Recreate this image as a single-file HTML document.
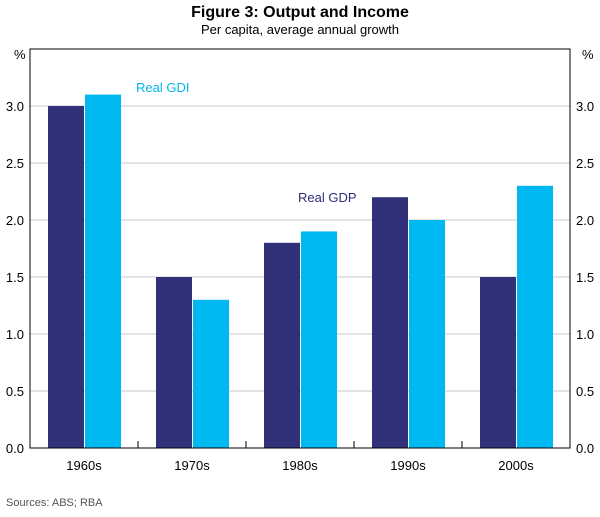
<!DOCTYPE html>
<html><head><meta charset="utf-8"><style>
body{margin:0;background:#fff;font-family:"Liberation Sans",sans-serif;}
</style></head><body>
<svg id="c" width="600" height="512" xmlns="http://www.w3.org/2000/svg" font-family="Liberation Sans, sans-serif">
<text x="300" y="17" text-anchor="middle" font-size="16" font-weight="bold">Figure 3: Output and Income</text>
<text x="300" y="34" text-anchor="middle" font-size="13">Per capita, average annual growth</text>
<g id="grid"></g><g id="bars"></g><g id="axes"></g>
<text x="136" y="92" fill="#00b8f0" font-size="13">Real GDI</text>
<text x="298" y="202" fill="#2e2e7a" font-size="13">Real GDP</text>
<text x="6" y="506" fill="#555" font-size="11">Sources:  ABS; RBA</text>
</svg>
<script>
const categories=["1960s","1970s","1980s","1990s","2000s"];
const gdp=[3.0,1.5,1.8,2.2,1.5];
const gdi=[3.1,1.3,1.9,2.0,2.3];
const ticks=[0,0.5,1,1.5,2,2.5,3];
const L=30,R=570,T=49,B=448,MAX=3.5;
const NS="http://www.w3.org/2000/svg";
const y=v=>B-(v/MAX)*(B-T);
const cw=(R-L)/categories.length;
const x=i=>L+cw*i;
function mk(p,t,a){const e=document.createElementNS(NS,t);for(const k in a)e.setAttribute(k,a[k]);document.getElementById(p).appendChild(e);return e;}
ticks.forEach(v=>{
 if(v>0){const g=mk('grid','line',{x1:L,x2:R,y1:y(v),y2:y(v),stroke:'#c8c8c8','stroke-width':1});
 
 }
 const a=mk('axes','text',{x:L-6,y:y(v)+5,'text-anchor':'end','font-size':13});a.textContent=v.toFixed(1);
 
 
 const b=mk('axes','text',{x:R+6,y:y(v)+5,'font-size':13});b.textContent=v.toFixed(1);
 
 
});
[[L-16,'left'],[R+12,'right']].forEach(([xx,n])=>{const t=mk('axes','text',{x:xx,y:59,'font-size':13});t.textContent='%';
 
 });
categories.forEach((c,i)=>{
 const cx=x(i)+cw/2;
 const r1=mk('bars','rect',{x:cx-36,y:y(gdp[i]),width:36,height:B-y(gdp[i]),fill:'#31317a'});
 
 
 const r2=mk('bars','rect',{x:cx+1,y:y(gdi[i]),width:36,height:B-y(gdi[i]),fill:'#00b9f1'});
 
 
 const t=mk('axes','text',{x:cx,y:470,'text-anchor':'middle','font-size':13});t.textContent=c;
 
 
 if(i>0){const tk=mk('axes','line',{x1:x(i),x2:x(i),y1:B,y2:B-7,stroke:'#000'});
 
 }
});
const fr=mk('axes','rect',{x:L,y:T,width:R-L,height:B-T,fill:'none',stroke:'#000','stroke-width':1});


</script>
</body></html>
